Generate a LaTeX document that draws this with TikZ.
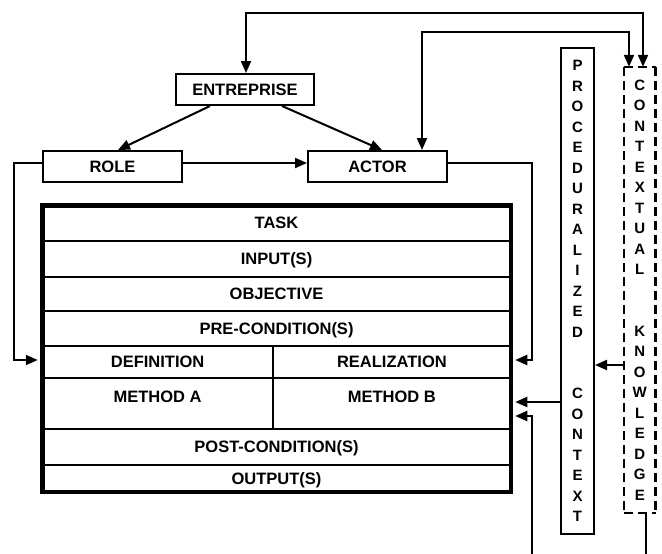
\documentclass[tikz,border=0pt]{standalone}
\usepackage{fontspec}
\setmainfont{Liberation Sans}
\usetikzlibrary{arrows.meta}
\begin{document}
\begin{tikzpicture}[x=1pt,y=-1pt,
  lblfont/.style={font=\bfseries\fontsize{16.5}{18}\selectfont},
  box/.style={draw, line width=2pt, minimum width=139pt, minimum height=31pt, inner sep=0pt, lblfont, text height=11.8pt, text depth=0pt},
  rowbox/.style={draw, line width=2.2pt, inner sep=0pt, minimum width=468.5pt, lblfont, text height=11.8pt, text depth=0pt},
  lbl/.style={inner sep=0pt, lblfont, text height=11.8pt, text depth=0pt},
  frame/.style={draw, line width=4.5pt, inner sep=0pt},
  vtext/.style={align=center, inner sep=0pt, font=\bfseries\fontsize{15}{20.5}\selectfont},
  conn/.style={line width=2pt},
  arr/.style={conn, -{Triangle[length=12pt,width=10pt]}},
  arrtwo/.style={conn, {Triangle[length=12pt,width=10pt]}-{Triangle[length=12pt,width=10pt]}},
  dashthin/.style={line width=2pt, dash pattern=on 9pt off 5pt},
  dashthick/.style={line width=3pt, dash pattern=on 9pt off 5pt}
]
\useasboundingbox[fill=white] (0,0) rectangle (662,554);

% upper boxes
\node[box, minimum width=138pt] (ent) at (245,89.5) {ENTREPRISE};
\node[box] (role) at (112.5,166.5) {ROLE};
\node[box] (actor) at (377.5,166.5) {ACTOR};

% task table rows
\node[rowbox, minimum height=36pt] (task) at (276.5,223) {TASK};
\node[rowbox, minimum height=36pt] (input) at (276.5,259) {INPUT(S)};
\node[rowbox, minimum height=34pt] (objective) at (276.5,294) {OBJECTIVE};
\node[rowbox, minimum height=35pt] (pre) at (276.5,328.5) {PRE-CONDITION(S)};
\node[rowbox, minimum width=230.75pt, minimum height=32pt] (def) at (157.6,362) {DEFINITION};
\node[rowbox, minimum width=237.75pt, minimum height=32pt] (real) at (391.9,362) {REALIZATION};
\node[rowbox, minimum width=230.75pt, minimum height=51pt] (methA) at (157.6,403.5) {};
\node[rowbox, minimum width=237.75pt, minimum height=51pt] (methB) at (391.9,403.5) {};
\node[lbl] (methAt) at (157.6,397) {METHOD A};
\node[lbl] (methBt) at (391.9,397) {METHOD B};
\node[rowbox, minimum height=36pt] (post) at (276.5,447) {POST-CONDITION(S)};
\node[rowbox, minimum height=26.75pt] (output) at (276.5,478.4) {OUTPUT(S)};
\node[frame, minimum width=468.5pt, minimum height=286.5pt] (main) at (276.5,348.5) {};

% vertical boxes
\node[draw, line width=2pt, minimum width=33pt, minimum height=486pt, vtext] (proc) at (577.5,291)
  {P\\R\\O\\C\\E\\D\\U\\R\\A\\L\\I\\Z\\E\\D\\~\\~\\C\\O\\N\\T\\E\\X\\T};
\node[minimum width=31.5pt, minimum height=446pt, vtext] (ctx) at (639.75,290)
  {C\\O\\N\\T\\E\\X\\T\\U\\A\\L\\~\\~\\K\\N\\O\\W\\L\\E\\D\\G\\E};
\draw[dashthin] (ctx.north west) -- (ctx.south west);
\draw[dashthick] (ctx.north east) -- (ctx.south east);
\draw[dashthin] (ctx.north west) -- (ctx.north east);
\draw[dashthin] (ctx.south west) -- (ctx.south east);

% coordinates for connector bends
\coordinate (t1) at (246,13);
\coordinate (t2) at (643,13);
\coordinate (s1) at (422,32);
\coordinate (s2) at (629,32);
\coordinate (lt) at (14,360);
\coordinate (rt) at (532,360);
\coordinate (k) at (600,365);
\coordinate (p) at (540,402);
\coordinate (q) at (532,416);
\coordinate (bot) at (532,554);
\coordinate (bot2) at (646,554);

% connectors
\draw[arrtwo] (ent.north -| t1) -- (t1) -- (t2) -- (ctx.north -| t2);
\draw[arrtwo] (actor.north -| s1) -- (s1) -- (s2) -- (ctx.north -| s2);
\draw[arr] ([xshift=-35pt]ent.south) -- ([xshift=5.5pt]role.north);
\draw[arr] ([xshift=37pt]ent.south) -- ([xshift=4.5pt]actor.north);
\draw[arr] ([yshift=3.5pt]role.east) -- ([yshift=3.5pt]actor.west);
\draw[arr, shorten >=2.25pt] ([yshift=3.5pt]role.west) -| (lt) -- (lt -| main.west);
\draw[arr, shorten >=2.25pt] ([yshift=3.5pt]actor.east) -| (rt) -- (rt -| main.east);
\draw[arr] (k -| ctx.west) -- (k -| proc.east);
\draw[arr, shorten >=2.25pt] (p -| proc.west) -- (p -| main.east);
\draw[arr, shorten >=2.25pt] (bot) -- (q) -- (q -| main.east);
\draw[conn] (ctx.south -| bot2) -- (bot2);
\end{tikzpicture}
\end{document}
